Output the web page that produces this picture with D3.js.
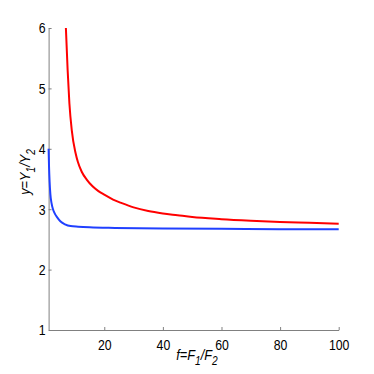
<!DOCTYPE html>
<html>
<head>
<meta charset="utf-8">
<script src="https://cdn.jsdelivr.net/npm/d3@7"></script>
<style>
html,body{margin:0;padding:0;background:#fff;}
svg{display:block;}
text{font-family:"Liberation Sans",Arial,Helvetica,sans-serif;}
</style>
</head>
<body>
<script>
// Data
const redF = [6.9, 7.5, 8.1, 8.9, 10.2, 11, 12.3, 14, 16, 18, 20, 23, 26, 30, 35, 40, 45, 50, 60, 70, 80, 90, 100];
const redY = [6.0, 5.30, 4.75, 4.31, 3.93, 3.78, 3.62, 3.49, 3.38, 3.30, 3.24, 3.16, 3.10, 3.03, 2.97, 2.93, 2.90, 2.87, 2.835, 2.81, 2.79, 2.775, 2.76];
const blueF = [1, 1.15, 1.35, 1.6, 2.0, 2.5, 3.0, 4.0, 5.0, 6.6, 8.5, 11.1, 15, 23.7, 40, 60, 80, 100];
const blueY = [4.0, 3.7, 3.45, 3.25, 3.1, 3.0, 2.94, 2.86, 2.80, 2.75, 2.72, 2.71, 2.70, 2.69, 2.68, 2.675, 2.67, 2.67];
const xTicks = [20, 40, 60, 80, 100];
const yTicks = [1, 2, 3, 4, 5, 6];

const W = 374, H = 374;
const svg = d3.select("body").append("svg").attr("width", W).attr("height", H);

const x = d3.scaleLinear().domain([1, 100]).range([48.6, 338.7]);
const y = d3.scaleLinear().domain([1, 6]).range([330, 28]);

const axisColor = "#808080";

const gx = svg.append("g").attr("transform", `translate(0,${y(1)})`)
  .call(d3.axisBottom(x).tickValues(xTicks).tickFormat(d3.format("d")).tickSize(-3).tickSizeOuter(0).tickPadding(9));
const gy = svg.append("g").attr("transform", `translate(${x(1)},0)`)
  .call(d3.axisLeft(y).tickValues(yTicks).tickFormat(d3.format("d")).tickSize(-3).tickSizeOuter(0).tickPadding(3));

[gx, gy].forEach(g => {
  g.attr("font-family", null);
  g.select(".domain").attr("stroke", axisColor).attr("stroke-width", 1);
  g.selectAll(".tick line").attr("stroke", axisColor);
  g.selectAll(".tick text").attr("fill", "#000").style("font-size", "15px");
});
gx.selectAll(".tick text").attr("transform", "scale(0.82,1)");
gy.selectAll(".tick text").attr("x", -3 / 0.82).attr("transform", "scale(0.82,1)");

const line = d3.line().curve(d3.curveMonotoneX).x(d => x(d[0])).y(d => y(d[1]));

svg.append("path")
  .datum(redF.map((f, i) => [f, redY[i]]))
  .attr("d", line).attr("fill", "none").attr("stroke", "#ff0000").attr("stroke-width", 2);

svg.append("path")
  .datum(blueF.map((f, i) => [f, blueY[i]]))
  .attr("d", line).attr("fill", "none").attr("stroke", "#2040ff").attr("stroke-width", 2);

// x label
const xl = svg.append("text").attr("transform", "translate(197,360) scale(0.85,1)")
  .attr("text-anchor", "middle").style("font-size", "15px").style("font-style", "italic");
xl.append("tspan").text("f=F");
xl.append("tspan").attr("dy", 5).style("font-size", "12px").text("1");
xl.append("tspan").attr("dy", -5).text("/F");
xl.append("tspan").attr("dy", 5).style("font-size", "12px").text("2");

// y label
const yl = svg.append("text").attr("transform", "translate(30,172) rotate(-90) scale(0.85,1)")
  .attr("text-anchor", "middle").style("font-size", "15px").style("font-style", "italic");
yl.append("tspan").text("y=Y");
yl.append("tspan").attr("dy", 5).style("font-size", "12px").text("1");
yl.append("tspan").attr("dy", -5).text("/Y");
yl.append("tspan").attr("dy", 5).style("font-size", "12px").text("2");
</script>
</body>
</html>
